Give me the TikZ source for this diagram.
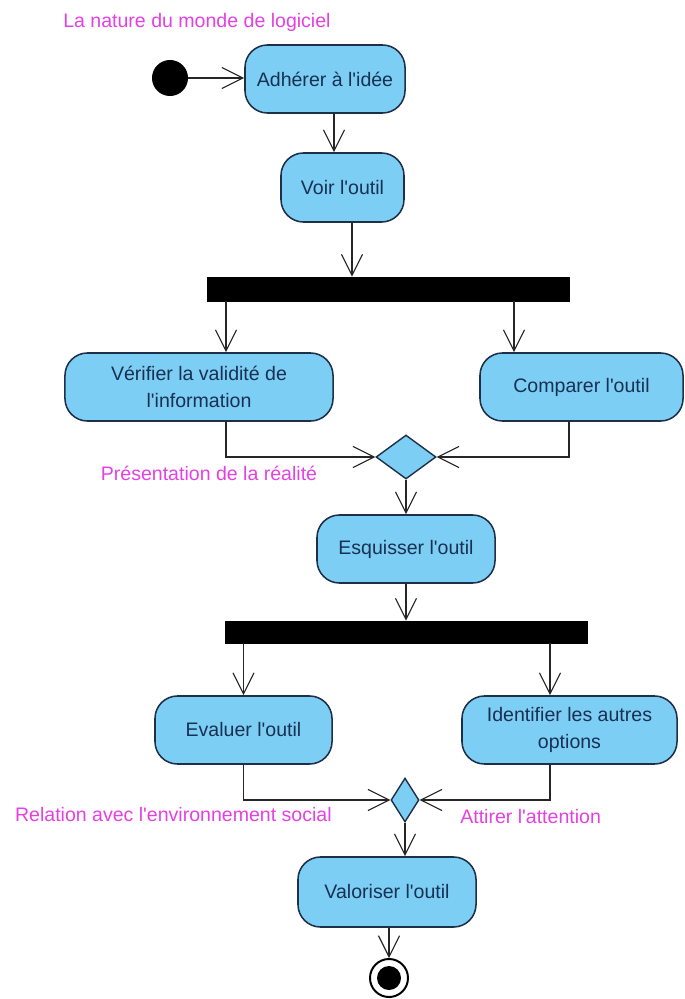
\documentclass[tikz,border=0pt]{standalone}
\usepackage{fontspec}
\setmainfont{Liberation Sans}[Ligatures=TeXOff]
\usetikzlibrary{arrows.meta,shapes.geometric}
\definecolor{actfill}{RGB}{125,206,244}
\definecolor{actline}{RGB}{30,48,72}
\definecolor{acttext}{RGB}{24,48,82}
\definecolor{notepink}{RGB}{228,64,228}
\tikzset{
  action/.style={rectangle, rounded corners=16pt, draw=actline, line width=1.1pt,
    fill=actfill, text=acttext, align=center, minimum height=1.7cm, inner sep=2pt},
  forkbar/.style={rectangle, fill=black, draw=black, inner sep=0pt, minimum width=9.05cm},
  merge/.style={diamond, draw=actline, line width=1pt, fill=actfill, inner sep=0pt,
    minimum height=1.1cm},
  note/.style={text=notepink, inner sep=0pt},
  flow/.style={draw=black!85, line width=0.8pt, -{Straight Barb[length=15pt,width=15pt]}},
}
\begin{document}
\begin{tikzpicture}[x=0.025cm,y=-0.025cm,font=\fontsize{13.9}{19.2}\selectfont]
    \useasboundingbox (0,0) rectangle (684,999);
    %% title
    \node[note,anchor=west] (title) at (63,22) {La nature du monde de logiciel};
    %% start and first actions
    \node[circle,fill=black,minimum size=0.9cm,inner sep=0pt] (start) at (170,78) {};
    \node[action,minimum width=4cm] (adherer) at (325,79) {Adhérer à l'idée};
    \node[action,minimum width=3.075cm,minimum height=1.725cm] (voir) at (342.5,187.5) {Voir l'outil};
    \node[forkbar,minimum height=0.6cm] (fork1) at (388,289) {};
    %% first branch
    \node[action,minimum width=6.7cm] (verifier) at (199,387) {Vérifier la validité de\\l'information};
    \node[action,minimum width=5.075cm] (comparer) at (581.5,387) {Comparer l'outil};
    \node[merge,minimum width=1.5cm] (merge1) at (406,457) {};
    \node[note] (realite) at (209,473) {Présentation de la réalité};
    \node[action,minimum width=4.45cm] (esquisser) at (406,549) {Esquisser l'outil};
    \node[forkbar,minimum height=0.55cm] (fork2) at (406,632) {};
    %% second branch
    \node[action,minimum width=4.425cm] (evaluer) at (243.5,730) {Evaluer l'outil};
    \node[action,minimum width=5.375cm] (identifier) at (569.5,730) {Identifier les autres\\options};
    \node[merge,minimum width=0.7cm] (merge2) at (405,800) {};
    \node[note,anchor=east] (social) at (332,815) {Relation avec l'environnement social};
    \node[note,anchor=west] (attention) at (460,817) {Attirer l'attention};
    \node[action,minimum width=4.45cm,minimum height=1.75cm] (valoriser) at (387,892) {Valoriser l'outil};
    %% end
    \node[circle,draw=black,line width=1.4pt,fill=white,minimum size=0.95cm,inner sep=0pt] (final) at (389,978) {};
    \fill (final.center) circle (0.3cm);
    %% flows
    \draw[flow] (start) -- (adherer.west |- start);
    \draw[flow] (334,0 |- adherer.south) -- (334,0 |- voir.north);
    \draw[flow] (352,0 |- voir.south) -- (352,0 |- fork1.north);
    \draw[flow] (226,0 |- fork1.south) -- (226,0 |- verifier.north);
    \draw[flow] (514,0 |- fork1.south) -- (514,0 |- comparer.north);
    \draw[flow] (226,0 |- verifier.south) |- (merge1.west);
    \draw[flow] (569,0 |- comparer.south) |- (merge1.east);
    \draw[flow] (merge1.south) -- (merge1.south |- esquisser.north);
    \draw[flow] (esquisser.south) -- (esquisser.south |- fork2.north);
    \draw[flow] (evaluer.north |- fork2.south) -- (evaluer.north);
    \draw[flow] (550,0 |- fork2.south) -- (550,0 |- identifier.north);
    \draw[flow] (evaluer.south) |- (merge2.west);
    \draw[flow] (550,0 |- identifier.south) |- (merge2.east);
    \draw[flow] (merge2.south) -- (merge2.south |- valoriser.north);
    \draw[flow] (valoriser.south -| final) -- (final.north);
\end{tikzpicture}
\end{document}
